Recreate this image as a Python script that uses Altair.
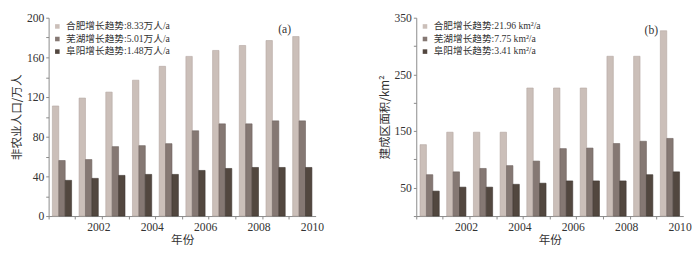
import altair as alt
import pandas as pd

years = [str(y) for y in range(2001, 2011)]

pop_hefei = [111, 119, 125, 137, 151, 161, 167, 172, 177, 181]
pop_wuhu = [56, 57, 70, 71, 73, 86, 93, 93, 96, 96]
pop_fuyang = [36, 38, 41, 42, 42, 46, 48, 49, 49, 49]

area_hefei = [126, 148, 148, 148, 226, 226, 226, 282, 282, 327]
area_wuhu = [73, 78, 84, 89, 97, 119, 120, 128, 132, 137]
area_fuyang = [44, 51, 51, 56, 58, 62, 62, 62, 73, 78]

pop_series = ["合肥增长趋势:8.33万人/a", "芜湖增长趋势:5.01万人/a", "阜阳增长趋势:1.48万人/a"]
area_series = ["合肥增长趋势:21.96 km²/a", "芜湖增长趋势:7.75 km²/a", "阜阳增长趋势:3.41 km²/a"]

fill_colors = ["#cbbfb9", "#857873", "#52473f"]
stroke_colors = ["#b3a59f", "#6e625d", "#3f3530"]

W = 276
H = 205
SERIF = "Liberation Serif"
CJK = "Liberation Serif, Noto Sans CJK SC"


def panel(series_names, values_lists, domain_max, tick_vals, label_expr, ytitle, tag, tag_x, tag_y):
    rows = []
    for s, vals in zip(series_names, values_lists):
        for y, v in zip(years, vals):
            rows.append({"年份": y, "series": s, "value": v})
    df = pd.DataFrame(rows)
    bars = alt.Chart(df).mark_bar(strokeWidth=0.6).encode(
        x=alt.X(
            "年份:N",
            scale=alt.Scale(paddingInner=0.28, paddingOuter=0.14),
            axis=alt.Axis(
                title="年份",
                labelAngle=0,
                bandPosition=0,
                tickOffset=-4,
                labelOffset=14,
                labelExpr="toNumber(datum.value) % 2 == 0 ? datum.label : ''",
                labelPadding=3,
                titlePadding=2,
            ),
        ),
        xOffset=alt.XOffset("series:N", sort=series_names,
                            scale=alt.Scale(paddingInner=0, paddingOuter=0)),
        y=alt.Y(
            "value:Q",
            scale=alt.Scale(domain=[0, domain_max], nice=False),
            axis=alt.Axis(values=tick_vals, labelExpr=label_expr, grid=False,
                          title=ytitle, titlePadding=3, labelPadding=2),
        ),
        color=alt.Color(
            "series:N",
            sort=series_names,
            scale=alt.Scale(domain=series_names, range=fill_colors),
            legend=alt.Legend(
                title=None,
                orient="top-left",
                offset=4,
                symbolType="square",
                symbolSize=22,
                symbolStrokeWidth=0,
                labelFont=CJK,
                labelFontSize=10,
                labelColor="#333",
                labelLimit=300,
                rowPadding=3,
                padding=0,
            ),
        ),
        stroke=alt.Stroke("series:N", sort=series_names,
                          scale=alt.Scale(domain=series_names, range=stroke_colors),
                          legend=None),
    )
    tag_df = pd.DataFrame({"t": [tag]})
    tag_text = alt.Chart(tag_df).mark_text(font=SERIF, fontSize=12, color="#333").encode(
        text="t:N", x=alt.value(tag_x), y=alt.value(tag_y)
    )
    return alt.layer(bars, tag_text).properties(width=W, height=H)


left = panel(
    pop_series, [pop_hefei, pop_wuhu, pop_fuyang], 200,
    list(range(0, 201, 20)),
    "datum.value % 40 == 0 ? datum.label : ''",
    "非农业人口/万人", "(a)", 244, 12,
)
right = panel(
    area_series, [area_hefei, area_wuhu, area_fuyang], 350,
    list(range(0, 351, 50)),
    "datum.value % 100 == 50 ? datum.label : ''",
    "建成区面积/km²", "(b)", 243, 13,
)

chart = alt.hconcat(left, right, spacing=56).resolve_scale(
    color="independent", stroke="independent", xOffset="independent",
    x="independent", y="independent",
).resolve_legend(color="independent", stroke="independent").properties(
    padding={"left": 3, "top": 0, "right": 0, "bottom": 0}
).configure_view(stroke=None).configure_axis(
    domainColor="#888",
    tickColor="#888",
    tickSize=3,
    labelFont=SERIF,
    labelFontSize=12,
    labelColor="#333",
    titleFont="Noto Sans CJK SC",
    titleFontSize=12,
    titleFontWeight="normal",
    titleColor="#333",
)

chart.save("out.html", embed_options={"renderer": "svg", "actions": False})
